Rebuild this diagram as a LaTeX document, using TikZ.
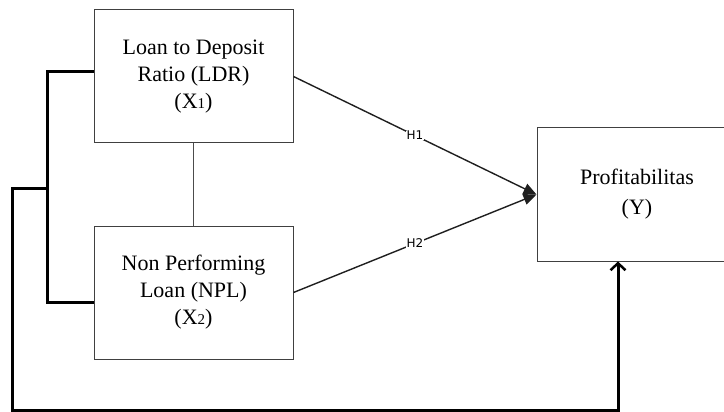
\documentclass[tikz,border=0pt]{standalone}
\usepackage{fontspec}
\setmainfont{Liberation Serif}
\newfontfamily\hfont{DejaVu Sans}
\usetikzlibrary{arrows.meta}
\tikzset{
  varbox/.style={draw=black!75, line width=1pt, fill=white, minimum width=199pt, minimum height=133pt,
    align=center, inner sep=0pt, font=\fontsize{22}{27}\selectfont},
  hline/.style={draw=black!88, line width=1.4pt},
  hlabel/.style={fill=white, inner sep=0.5pt, font=\hfont\fontsize{12}{13}\selectfont},
  bracket/.style={draw=black, line width=3pt},
  linkline/.style={draw=black!70, line width=1pt}
}
\newcommand{\smalldigit}[1]{{\fontsize{15}{15}\selectfont #1}}
\begin{document}
\begin{tikzpicture}[x=1pt,y=-1pt]
\useasboundingbox (0,0) rectangle (724,412);
\clip (0,0) rectangle (724,412);
\fill[white] (0,0) rectangle (724,412);

\node[varbox] (top) at (193.5,76.5) {Loan to Deposit\\Ratio (LDR)\\(X\smalldigit{1})};
\node[varbox] (bot) at (193.5,292.5) {Non Performing\\Loan (NPL)\\(X\smalldigit{2})};
\node[varbox, minimum width=200pt, font=\fontsize{22}{30}\selectfont] (prof) at (637,194.5) {Profitabilitas\\(Y)};

\draw[linkline] (top.south) -- (bot.north);

\draw[hline, -{Triangle[length=13pt,width=11pt]}] (top.east) -- node[hlabel] {H1} (prof.west);
\draw[hline, -{Triangle[length=13pt,width=11pt]}] (bot.east) -- node[hlabel] {H2} (prof.west);

\coordinate (jt) at (47,72);
\coordinate (jb) at (47,302);
\coordinate (jm) at (47,188);
\coordinate (lm) at (12,188);
\coordinate (lb) at (12,410);
\coordinate (rb) at (618,410);
\draw[bracket, line join=miter] ([yshift=4.5pt]top.west) -- (jt) -- (jb) -- ([yshift=-9.5pt]bot.west);
\draw[bracket, line join=miter, -{Straight Barb[length=7pt,width=15pt,line width=2.5pt]}] (jm) -- (lm) -- (lb) -- (rb) -- ([xshift=-19pt]prof.south);
\end{tikzpicture}
\end{document}
